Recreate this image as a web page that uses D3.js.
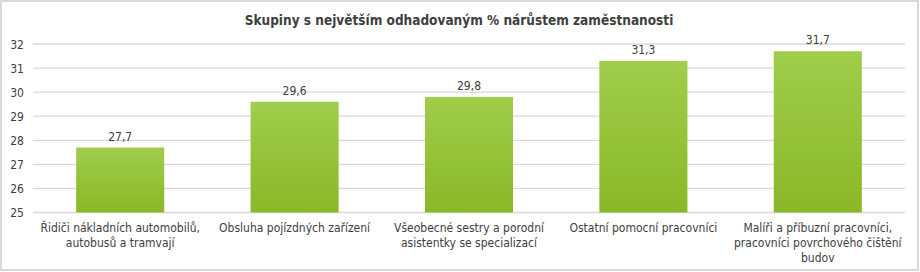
<!DOCTYPE html>
<html><head><meta charset="utf-8">
<script src="https://cdn.jsdelivr.net/npm/d3@7"></script>
<style>body{margin:0;background:#fff}svg{display:block}</style>
</head><body><svg id="c" width="920" height="272"></svg>
<script>
const title = "Skupiny s největším odhadovaným % nárůstem zaměstnanosti";
const categories = [
  ["Řidiči nákladních automobilů,", "autobusů a tramvají"],
  ["Obsluha pojízdných zařízení"],
  ["Všeobecné sestry a porodní", "asistentky se specializací"],
  ["Ostatní pomocní pracovníci"],
  ["Malíři a příbuzní pracovníci,", "pracovníci povrchového čištění", "budov"]
];
const values = [27.7, 29.6, 29.8, 31.3, 31.7];
const yTicks = [25, 26, 27, 28, 29, 30, 31, 32];

const svg = d3.select("#c");
const font = "'DejaVu Sans Condensed', 'DejaVu Sans', sans-serif";
svg.append("rect").attr("x",1).attr("y",1).attr("width",917).attr("height",269)
  .attr("fill","#fff").attr("stroke","#d9d9d9").attr("stroke-width",2);

const defs = svg.append("defs");
const g1 = defs.append("linearGradient").attr("id","bg").attr("x1",0).attr("y1",0).attr("x2",0).attr("y2",1);
g1.append("stop").attr("offset","0%").attr("stop-color","#a0cd4b");
g1.append("stop").attr("offset","100%").attr("stop-color","#8ab827");

const x = d3.scaleBand().domain(d3.range(values.length)).range([33,905]).paddingInner(0.495).paddingOuter(0.2475);
const y = d3.scaleLinear().domain([25,32]).range([212.5,44]);

svg.append("g").selectAll("line").data(yTicks).join("line")
  .attr("x1",33).attr("x2",905).attr("y1",d=>y(d)).attr("y2",d=>y(d))
  .attr("stroke","#d9d9d9").attr("stroke-width",1.3);

svg.append("g").selectAll("text").data(yTicks).join("text")
  .attr("x",17).attr("y",d=>y(d)+4.5).attr("text-anchor","middle")
  .attr("font-family",font).attr("font-stretch","condensed").attr("font-size",12).attr("fill","#404040").text(d=>d);

svg.append("g").selectAll("rect").data(values).join("rect")
  .attr("x",(d,i)=>x(i)).attr("width",x.bandwidth())
  .attr("y",d=>y(d)).attr("height",d=>y(25)-y(d)).attr("fill","url(#bg)");

svg.append("g").selectAll("text").data(values).join("text")
  .attr("x",(d,i)=>x(i)+x.bandwidth()/2).attr("y",d=>y(d)-7)
  .attr("text-anchor","middle").attr("font-family",font).attr("font-stretch","condensed").attr("font-size",12).attr("fill","#404040")
  .text(d=>d3.format(".1f")(d).replace(".",","));

const cg = svg.append("g").selectAll("text").data(categories).join("text")
  .attr("text-anchor","middle").attr("font-family",font).attr("font-stretch","condensed").attr("font-size",12).attr("fill","#404040");
cg.each(function(lines,i){
  d3.select(this).selectAll("tspan").data(lines).join("tspan")
    .attr("x",x(i)+x.bandwidth()/2).attr("y",(d,j)=>232+j*15).text(d=>d);
});

svg.append("text").attr("x",459).attr("y",25).attr("text-anchor","middle")
  .attr("font-family",font).attr("font-stretch","condensed").attr("font-weight","bold").attr("font-size",13.5).attr("fill","#404040").text(title);
</script></body></html>
